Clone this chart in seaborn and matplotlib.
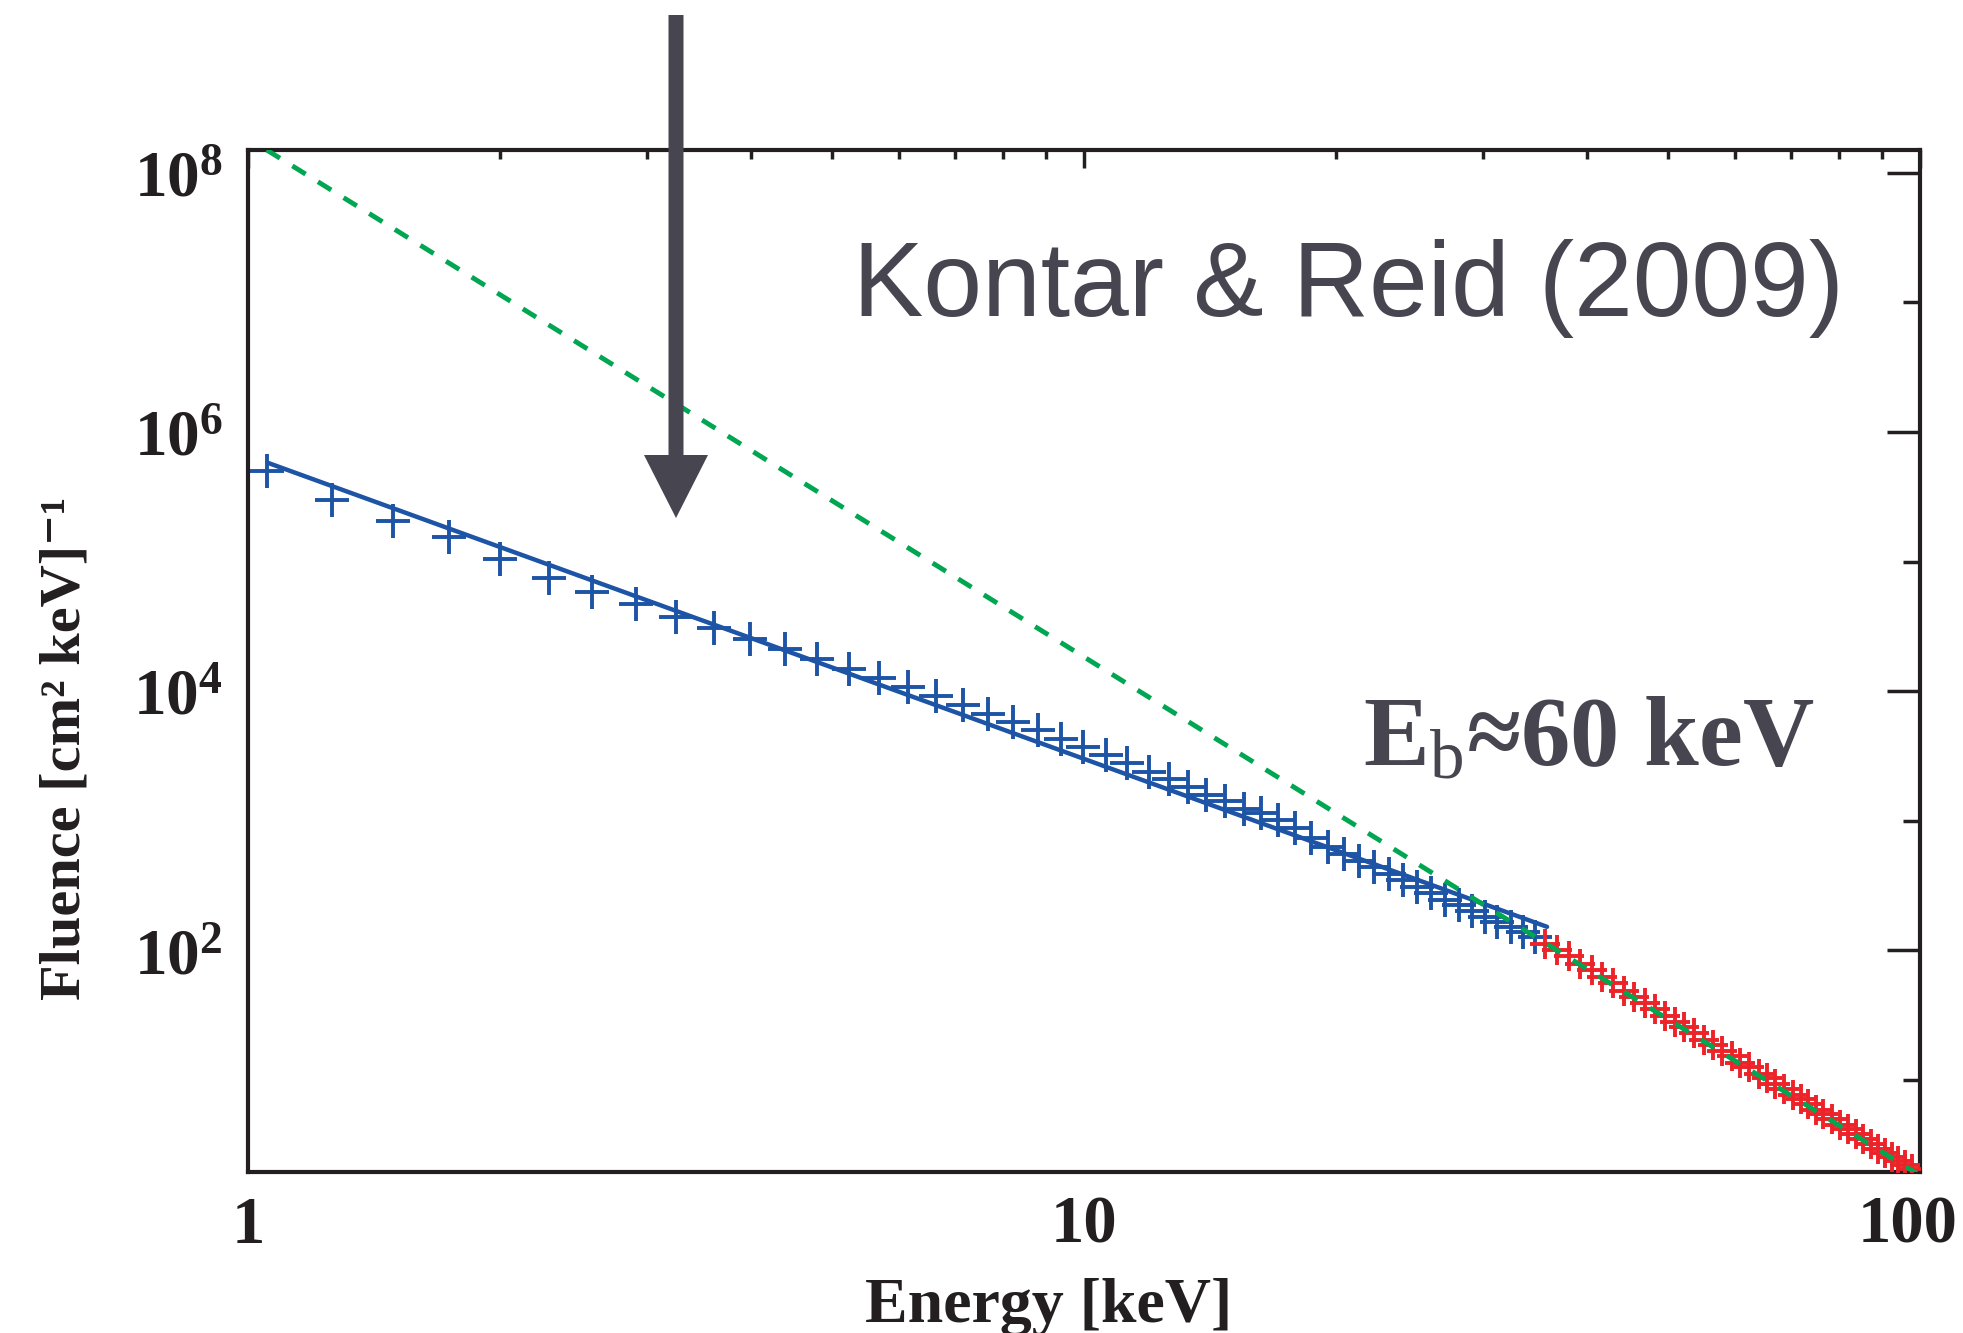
import numpy as np
import pandas as pd
import matplotlib
matplotlib.use("Agg")
import matplotlib.pyplot as plt
import matplotlib.transforms as mtransforms
import seaborn as sns
from matplotlib.patches import FancyArrow
from matplotlib.ticker import FixedLocator, NullFormatter, LogLocator

# ---------------- data ----------------
blue_energy = [1.055, 1.26, 1.49, 1.74, 2.00, 2.29, 2.58, 2.91, 3.25, 3.61,
               3.99, 4.39, 4.79, 5.23, 5.69, 6.16, 6.65, 7.16, 7.68, 8.23,
               8.80, 9.39, 9.98, 10.62, 11.25, 11.96, 12.64, 13.33, 14.0, 14.76,
               15.52, 16.28, 17.07, 17.89, 18.69, 19.56, 20.44, 21.33, 22.21, 23.14,
               24.08, 25.02, 26.04, 27.06, 28.10, 29.13, 30.17, 31.2, 32.4, 33.5,
               34.6]
blue_fluence = [5.01e5, 3.00e5, 2.07e5, 1.56e5, 1.04e5, 7.52e4, 5.79e4, 4.71e4, 3.76e4, 3.08e4,
                2.54e4, 2.12e4, 1.77e4, 1.49e4, 1.26e4, 1.07e4, 9.16e3, 7.85e3, 6.70e3, 5.77e3,
                4.98e3, 4.27e3, 3.71e3, 3.24e3, 2.79e3, 2.40e3, 2.10e3, 1.82e3, 1.59e3, 1.41e3,
                1.23e3, 1.15e3, 1.01e3, 881, 741, 631, 550, 490, 437, 389,
                347, 309, 275, 245, 224, 200, 182, 166, 151, 138,
                126]

red_energy = [35.6, 36.8, 38.0, 39.2, 40.5, 41.7, 42.9, 44.2, 45.5, 46.9,
              48.2, 49.5, 50.9, 52.2, 53.6, 55.1, 56.5, 57.9, 59.6, 60.9,
              62.4, 64.1, 65.6, 67.1, 68.8, 70.4, 72.0, 73.5, 75.1, 76.6,
              78.4, 80.2, 82.1, 83.8, 85.5, 87.3, 89.0, 90.8, 92.5, 94.2,
              96.0, 97.7]
red_fluence = [112, 100, 90, 79, 70, 62, 56, 49, 44, 39,
               35, 31, 28, 25.5, 23, 20.5, 18.5, 16.8, 15.2, 13.6,
               12.5, 11.2, 10.3, 9.3, 8.5, 7.7, 7.1, 6.5, 5.9, 5.5,
               5.0, 4.5, 4.2, 3.8, 3.5, 3.2, 2.95, 2.75, 2.55, 2.35,
               2.2, 2.05]

fit_energy = [1.055, 35.8]
fit_fluence = [5.8e5, 152]

model_energy = [1.053, 99.1]
model_fluence = [1.5e8, 1.9]

x_ticks = [1, 10, 100]
x_tick_labels = ["1", "10", "100"]
y_ticks = [1e2, 1e4, 1e6, 1e8]
y_tick_labels = [r"$\mathbf{10^{2}}$", r"$\mathbf{10^{4}}$",
                 r"$\mathbf{10^{6}}$", r"$\mathbf{10^{8}}$"]
y_minor = [1e1, 1e3, 1e5, 1e7]

title_text = "Kontar & Reid (2009)"
break_text = r"E$_{\mathrm{b}}$≈60 keV"
x_label = "Energy [keV]"
y_label = "Fluence [cm² keV]⁻¹"

# ---------------- style ----------------
sns.set_style("white")
plt.rcParams["font.family"] = ["Liberation Serif", "DejaVu Serif"]
plt.rcParams["mathtext.fontset"] = "custom"
plt.rcParams["mathtext.rm"] = "Liberation Serif"
plt.rcParams["mathtext.it"] = "Liberation Serif:italic"
plt.rcParams["mathtext.bf"] = "Liberation Serif:bold"

blue = "#1d54a6"
red = "#ec2329"
green = "#00a651"
ink = "#231f20"
gray = "#47454f"

W, H = 1963, 1333
fig = plt.figure(figsize=(W / 100, H / 100), dpi=100)
fig.patch.set_facecolor("white")
ax = fig.add_axes([248 / W, 1 - 1172 / H, (1920 - 248) / W, (1172 - 150) / H])
ax.set_xscale("log")
ax.set_yscale("log")

df_blue = pd.DataFrame({"E": blue_energy, "F": blue_fluence})
df_red = pd.DataFrame({"E": red_energy, "F": red_fluence})
df_fit = pd.DataFrame({"E": fit_energy, "F": fit_fluence})
df_model = pd.DataFrame({"E": model_energy, "F": model_fluence})

sns.scatterplot(data=df_blue, x="E", y="F", marker="+", s=600, color=blue,
                linewidth=2.8, ax=ax, zorder=2)
sns.lineplot(data=df_fit, x="E", y="F", color=blue, linewidth=3.2, ax=ax, zorder=3)
sns.scatterplot(data=df_red, x="E", y="F", marker="+", s=450, color=red,
                linewidth=2.8, ax=ax, zorder=4)
sns.lineplot(data=df_model, x="E", y="F", color=green, linewidth=3.5, ax=ax, zorder=5)
ax.lines[-1].set_linestyle((0, (3.2, 3.0)))

ax.set_xlim(1, 100)
ax.set_ylim(1.95, 1.5e8)

ax.set_xticks(x_ticks, labels=x_tick_labels, fontweight="bold")
ax.xaxis.set_minor_locator(LogLocator(base=10, subs=range(2, 10)))
ax.xaxis.set_minor_formatter(NullFormatter())
ax.set_yticks(y_ticks, labels=y_tick_labels)
ax.yaxis.set_minor_locator(FixedLocator(y_minor))
ax.yaxis.set_minor_formatter(NullFormatter())

ax.tick_params(axis="both", which="both", direction="in", top=True, right=True,
               color=ink, labelcolor=ink, width=2.5)
ax.tick_params(axis="y", which="major", length=24, pad=18, labelsize=47)
ax.tick_params(axis="y", which="minor", length=12)
ax.tick_params(axis="x", which="major", length=13, pad=17, labelsize=48)
ax.tick_params(axis="x", which="minor", length=6.5)

# the last x tick label sits slightly left of its tick so it stays inside the figure
last_lbl = ax.get_xticklabels()[-1]
last_lbl.set_transform(last_lbl.get_transform() +
                       mtransforms.ScaledTranslation(-12 / 100, 0, fig.dpi_scale_trans))

for sp in ax.spines.values():
    sp.set_color(ink)
    sp.set_linewidth(3)
    sp.set_visible(True)

ax.set_xlabel(x_label, fontsize=46, fontweight="bold", color=ink)
ax.xaxis.set_label_coords(0.479, -0.1468)
ax.xaxis.label.set_va("baseline")

ax.set_ylabel(y_label, fontsize=42, fontweight="bold", color=ink)
ax.yaxis.set_label_coords((66 - 248) / 1672, (1172 - 748) / 1022)
ax.yaxis.label.set_va("center")

ax.text(0.3618, 0.8376, title_text, transform=ax.transAxes, fontsize=76,
        family=["Liberation Sans", "DejaVu Sans"], fontweight="normal",
        color=gray, ha="left", va="baseline", zorder=6)
ax.text(0.667, 0.398, break_text, transform=ax.transAxes, fontsize=71,
        fontweight="bold", color=gray, ha="left", va="baseline", zorder=6)

arrow = FancyArrow(676 / W, 1 - 15 / H, 0, -(518 - 15) / H,
                   width=15 / W, head_width=64 / W, head_length=63 / H,
                   length_includes_head=True, transform=fig.transFigure,
                   color=gray, linewidth=0, zorder=10)
fig.add_artist(arrow)

fig.savefig("out.png", dpi=100)
